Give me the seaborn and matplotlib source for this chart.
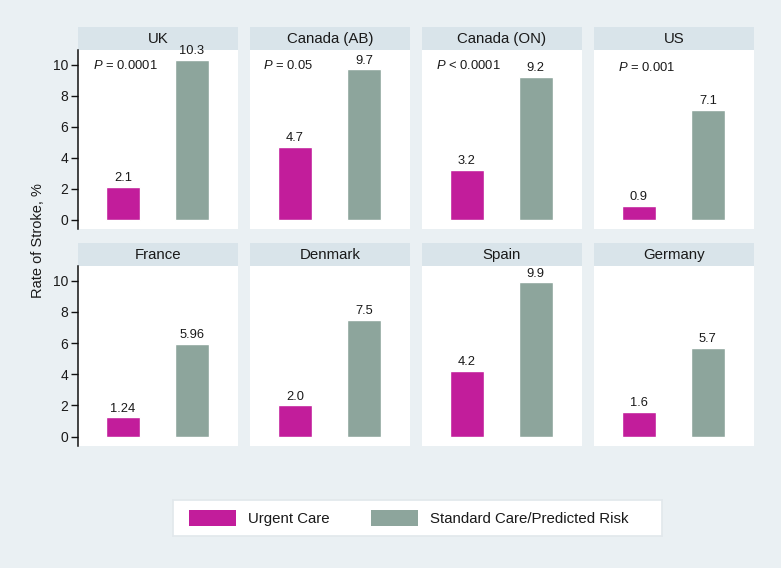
import matplotlib
matplotlib.use("Agg")
import matplotlib.pyplot as plt
from matplotlib.patches import Patch
import seaborn as sns
import pandas as pd

sns.set_theme(style="white")
plt.rcParams["font.family"] = ["Liberation Sans", "DejaVu Sans"]
plt.rcParams["mathtext.fontset"] = "custom"
plt.rcParams["mathtext.it"] = "Liberation Sans:italic"
plt.rcParams["mathtext.rm"] = "Liberation Sans"

# data
countries = ["UK", "Canada (AB)", "Canada (ON)", "US",
             "France", "Denmark", "Spain", "Germany"]
urgent = [2.1, 4.7, 3.2, 0.9, 1.24, 2.0, 4.2, 1.6]
standard = [10.3, 9.7, 9.2, 7.1, 5.96, 7.5, 9.9, 5.7]
urgent_txt = ["2.1", "4.7", "3.2", "0.9", "1.24", "2.0", "4.2", "1.6"]
standard_txt = ["10.3", "9.7", "9.2", "7.1", "5.96", "7.5", "9.9", "5.7"]
p_values = [r"$\it{P}$ = 0.0001", r"$\it{P}$ = 0.05", r"$\it{P}$ < 0.0001",
            r"$\it{P}$ = 0.001", None, None, None, None]
groups = ["Urgent Care", "Standard Care/Predicted Risk"]
yticks = [0, 2, 4, 6, 8, 10]

BG = "#EAF0F3"
STRIP = "#D9E4EA"
colors = {"Urgent Care": "#C21D9B", "Standard Care/Predicted Risk": "#8DA59C"}

W, H = 781, 568
fig = plt.figure(figsize=(W / 100, H / 100), dpi=100, facecolor=BG)


def px_axes(x0, y0, x1, y1, **kw):
    # pixel box (top-left origin) -> figure axes
    return fig.add_axes([x0 / W, 1 - y1 / H, (x1 - x0) / W, (y1 - y0) / H], **kw)


col_left = [78, 250, 422, 594]
rows = [(27, 50, 229), (243, 266, 446)]  # strip top, plot top, plot bottom
p_x = [0.094, 0.081, 0.088, 0.15]
p_y = [0.916, 0.916, 0.916, 0.9]

# strips first so value labels can sit on top of them
for i, name in enumerate(countries):
    r, c = divmod(i, 4)
    st, pt, pb = rows[r]
    x0 = col_left[c]
    sax = px_axes(x0, st, x0 + 160, pt, facecolor=STRIP)
    sax.set_xticks([])
    sax.set_yticks([])
    for s in sax.spines.values():
        s.set_visible(False)
    sax.text(0.5, 0.47, name, ha="center", va="center", fontsize=10.8,
             color="#1a1a1a", transform=sax.transAxes)

for i, name in enumerate(countries):
    r, c = divmod(i, 4)
    st, pt, pb = rows[r]
    x0 = col_left[c]

    ax = px_axes(x0, pt, x0 + 160, pb, facecolor="white")
    df = pd.DataFrame({"care": groups, "rate": [urgent[i], standard[i]]})
    sns.barplot(data=df, x="care", y="rate", hue="care", order=groups,
                hue_order=groups, palette=colors, width=0.5, dodge=False,
                legend=False, ax=ax, saturation=1)
    labels = [urgent_txt[i], standard_txt[i]]
    for cont, lab in zip(ax.containers, labels):
        ax.bar_label(cont, labels=[lab], padding=2, fontsize=9.3, color="#1a1a1a")
    ax.set_xlim(-0.652, 1.67)
    ax.set_ylim(-0.6, 10.95)
    ax.set_xlabel("")
    ax.set_ylabel("")
    ax.set_xticks([])
    for s in ["top", "right", "bottom"]:
        ax.spines[s].set_visible(False)
    if c == 0:
        ax.spines["left"].set_color("#111111")
        ax.spines["left"].set_linewidth(1.1)
        ax.set_yticks(yticks)
        ax.tick_params(axis="y", left=True, length=5, width=1, color="#111111",
                       labelsize=10, labelcolor="#1a1a1a", pad=2)
    else:
        ax.spines["left"].set_visible(False)
        ax.set_yticks([])

    if p_values[i]:
        ax.text(p_x[c], p_y[c], p_values[i], transform=ax.transAxes,
                fontsize=9.4, ha="left", va="center", color="#1a1a1a")

fig.text(38 / W, 1 - 241 / H, "Rate of Stroke, %", rotation=90,
         ha="center", va="center", fontsize=10.5, color="#1a1a1a")

# legend box
lax = px_axes(173, 500, 662, 536, facecolor="white")
lax.set_xticks([])
lax.set_yticks([])
for s in lax.spines.values():
    s.set_color("#E2E8EC")
handles = [Patch(facecolor=colors[g], edgecolor="none") for g in groups]
lax.legend(handles, groups, loc="center left", bbox_to_anchor=(16 / 489, 0.5),
           ncol=2, frameon=False, fontsize=10.8, handlelength=3.1,
           handleheight=1.33, handletextpad=0.8, columnspacing=2.8,
           borderpad=0, borderaxespad=0, labelcolor="#1a1a1a")

fig.savefig("out.png", dpi=100, facecolor=BG)
